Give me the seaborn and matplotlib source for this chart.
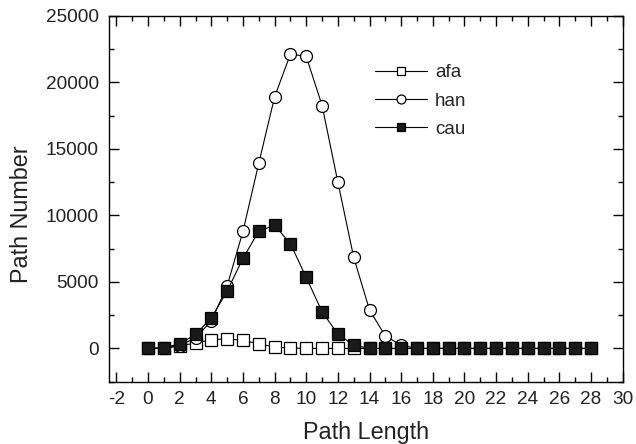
import numpy as np
import pandas as pd
import matplotlib
matplotlib.use("Agg")
import matplotlib.pyplot as plt
from matplotlib.ticker import MultipleLocator
import seaborn as sns

# -----------------------------
# Data
# -----------------------------
path_length = list(range(0, 29))

afa = [0, 30, 200, 400, 650, 730, 600, 350, 100, 30, 10, 0, 0, 0, 0, 0,
       0, 0, 0, 0, 0, 0, 0, 0, 0, 0, 0, 0, 0]
han = [0, 30, 200, 800, 2060, 4700, 8800, 13920, 18900, 22120, 21940, 18250,
       12490, 6840, 2890, 930, 250, 0, 0, 0, 0, 0, 0, 0, 0, 0, 0, 0, 0]
cau = [0, 50, 350, 1050, 2290, 4320, 6760, 8820, 9250, 7870, 5330, 2760,
       1070, 250, 0, 0, 0, 0, 0, 0, 0, 0, 0, 0, 0, 0, 0, 0, 0]

series_names = ["afa", "han", "cau"]
x_ticks = list(range(-2, 31, 2))
y_ticks = [0, 5000, 10000, 15000, 20000, 25000]

df = pd.DataFrame({"length": path_length, "afa": afa, "han": han, "cau": cau})

# -----------------------------
# Style
# -----------------------------
sns.set_style("ticks")
plt.rcParams["font.family"] = ["Liberation Sans", "DejaVu Sans"]
plt.rcParams["axes.unicode_minus"] = False

fig = plt.figure(figsize=(6.36, 4.44), dpi=100)
ax = fig.add_axes([0.1706, 0.1403, 0.979 - 0.1706, 0.9646 - 0.1403])

markers = {"afa": "s", "han": "o", "cau": "s"}
faces = {"afa": "white", "han": "white", "cau": "#1a1a1a"}
sizes = {"afa": 8.0, "han": 8.6, "cau": 8.0}

for name in series_names:
    sns.lineplot(data=df, x="length", y=name, ax=ax, color="black", lw=0.8,
                 marker=markers[name], markersize=sizes[name],
                 markerfacecolor=faces[name], markeredgecolor="black",
                 markeredgewidth=0.9, label=name)

# -----------------------------
# Axes
# -----------------------------
ax.set_xlim(-2.5, 30)
ax.set_ylim(-2500, 25000)
ax.set_xticks(x_ticks)
ax.set_yticks(y_ticks)
ax.xaxis.set_minor_locator(MultipleLocator(1))
ax.yaxis.set_minor_locator(MultipleLocator(2500))
ax.tick_params(which="both", direction="in", top=True, right=True,
               labelsize=13.7, width=1.0, color="black", labelcolor="#222222")
ax.tick_params(which="major", length=7.2, pad=7)
ax.tick_params(which="minor", length=3.6)
for sp in ax.spines.values():
    sp.set_visible(True)
    sp.set_linewidth(1.0)
    sp.set_color("black")

ax.set_xlabel("Path Length", fontsize=16.8, color="#222222")
ax.set_ylabel("Path Number", fontsize=16.8, color="#222222")
ax.xaxis.set_label_coords(0.5, -0.106)
ax.yaxis.set_label_coords(-0.147, 0.458)

ax.legend(loc="upper left", bbox_to_anchor=(0.518, 0.868), frameon=False,
          fontsize=13.5, handlelength=2.8, handletextpad=0.4, labelspacing=0.6,
          borderpad=0, borderaxespad=0, markerscale=0.75)

fig.savefig("out.png", dpi=100)
